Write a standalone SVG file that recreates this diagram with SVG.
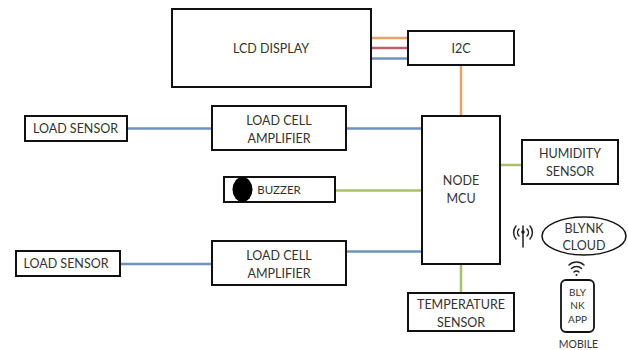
<svg xmlns="http://www.w3.org/2000/svg" width="628" height="350" viewBox="0 0 628 350">
<style>
text{font-family:Lato,"Liberation Sans",sans-serif;font-size:12.500px;fill:#333;text-anchor:middle}
.b{fill:#fff;stroke:#111;stroke-width:2}
.w{fill:none;stroke-width:2.500}
.bl{stroke:#6f93bd}.gr{stroke:#a9c06a}.or{stroke:#e8a468}.rd{stroke:#b8616a}
.ic{fill:none;stroke:#222;stroke-width:1.500;stroke-linecap:round}
</style>
<rect width="628" height="350" fill="#fff"/>
<g id="connectors">
<path class="w or" d="M371 38H408"/>
<path class="w rd" d="M371 48H408"/>
<path class="w bl" d="M371 58.500H408"/>
<path class="w or" d="M461 65V116"/>
<path class="w bl" d="M127 128.500H212"/>
<path class="w bl" d="M346 128.500H422"/>
<path class="w gr" d="M335 190.500H422"/>
<path class="w bl" d="M120 264H212"/>
<path class="w bl" d="M346 251.500H422"/>
<path class="w gr" d="M500 165H522"/>
<path class="w gr" d="M461 264V293"/>
</g>
<g id="lcd"><rect class="b" x="172" y="9" width="199" height="78"/><text x="271" y="53">LCD DISPLAY</text></g>
<g id="i2c"><rect class="b" x="408" y="31" width="106" height="34"/><text x="461" y="53">I2C</text></g>
<g id="load-sensor-1"><rect class="b" x="25" y="116" width="102" height="25"/><text x="75.500" y="133">LOAD SENSOR</text></g>
<g id="amp-1"><rect class="b" x="212" y="106" width="134" height="44"/><text x="279" y="125">LOAD CELL</text><text x="279" y="143">AMPLIFIER</text></g>
<g id="buzzer"><rect class="b" x="224" y="177" width="111" height="25"/><ellipse cx="242.500" cy="189.500" rx="10" ry="12.500" fill="#000"/><text x="279" y="194" style="font-size:11.500px">BUZZER</text></g>
<g id="load-sensor-2"><rect class="b" x="16" y="251" width="104" height="25"/><text x="66" y="268">LOAD SENSOR</text></g>
<g id="amp-2"><rect class="b" x="212" y="241" width="134" height="44"/><text x="279" y="260">LOAD CELL</text><text x="279" y="278">AMPLIFIER</text></g>
<g id="mcu"><rect class="b" x="422" y="116" width="78" height="148"/><text x="461" y="185">NODE</text><text x="461" y="203">MCU</text></g>
<g id="humidity"><rect class="b" x="522" y="140" width="96" height="44"/><text x="570" y="158">HUMIDITY</text><text x="570" y="176">SENSOR</text></g>
<g id="temperature"><rect class="b" x="408" y="293" width="106" height="38"/><text x="461" y="309">TEMPERATURE</text><text x="461" y="327">SENSOR</text></g>
<g id="antenna"><path class="ic" d="M523 226V247M519 229a5 5 0 0 0 0 7M527 229a5 5 0 0 1 0 7M516 226a10 10 0 0 0 0 13M530 226a10 10 0 0 1 0 13"/><circle cx="523" cy="232" r="1.800" fill="#222"/></g>
<g id="cloud"><ellipse cx="584" cy="236" rx="42" ry="19" fill="#fff" stroke="#111" stroke-width="1.500"/><text x="584" y="233">BLYNK</text><text x="584" y="250">CLOUD</text></g>
<g id="wifi"><path class="ic" d="M569 265a11 11 0 0 1 15 0M571.500 268.500a7 7 0 0 1 10 0M574 272a3.500 3.500 0 0 1 5 0"/><circle cx="576.500" cy="275" r="1.100" fill="#222"/></g>
<g id="mobile"><rect x="561" y="280" width="33" height="52" rx="5" fill="#fff" stroke="#111" stroke-width="1.800"/><text x="577.500" y="296" style="font-size:10px">BLY</text><text x="577.500" y="309" style="font-size:10px">NK</text><text x="577.500" y="323" style="font-size:10px">APP</text><text x="578.500" y="348" style="font-size:10.500px">MOBILE</text></g>
</svg>
